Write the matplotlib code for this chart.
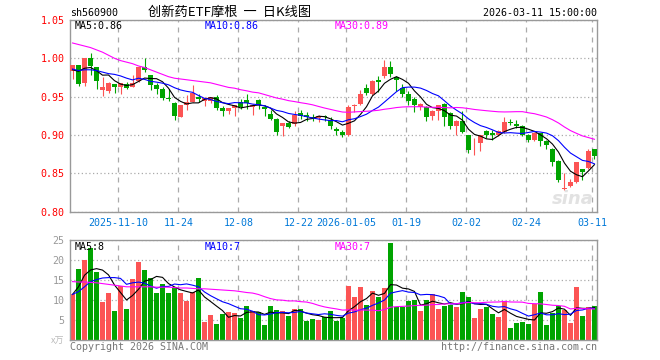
import numpy as np
import pandas as pd
import matplotlib
matplotlib.use("Agg")
import matplotlib.pyplot as plt

# daily candles, 2025-10-29 .. 2026-03-11 (88 trading days)
opens = [0.984, 0.991, 0.968, 1.000, 0.989, 0.958, 0.957, 0.966, 0.963, 0.967,
         0.962, 0.971, 0.988, 0.978, 0.965, 0.960, 0.948, 0.941, 0.924, 0.939,
         0.943, 0.950, 0.944, 0.944, 0.950, 0.935, 0.931, 0.935, 0.943, 0.945,
         0.937, 0.946, 0.936, 0.927, 0.921, 0.911, 0.916, 0.914, 0.928, 0.926,
         0.923, 0.922, 0.925, 0.920, 0.908, 0.904, 0.900, 0.938, 0.940, 0.961,
         0.954, 0.972, 0.977, 0.989, 0.975, 0.961, 0.953, 0.947, 0.937, 0.936,
         0.925, 0.931, 0.940, 0.929, 0.911, 0.918, 0.900, 0.889, 0.890, 0.905,
         0.902, 0.900, 0.904, 0.917, 0.914, 0.912, 0.900, 0.893, 0.902, 0.892,
         0.882, 0.866, 0.830, 0.833, 0.839, 0.855, 0.857, 0.882]
highs = [0.991, 0.991, 1.000, 1.007, 0.989, 0.975, 0.969, 0.966, 0.968, 0.969,
         0.978, 0.990, 1.000, 0.978, 0.968, 0.962, 0.960, 0.943, 0.939, 0.952,
         0.965, 0.953, 0.950, 0.950, 0.952, 0.938, 0.935, 0.939, 0.947, 0.953,
         0.940, 0.947, 0.939, 0.933, 0.922, 0.916, 0.918, 0.931, 0.932, 0.930,
         0.927, 0.926, 0.926, 0.924, 0.910, 0.907, 0.939, 0.940, 0.959, 0.967,
         0.972, 0.977, 0.998, 0.996, 0.977, 0.966, 0.957, 0.950, 0.941, 0.938,
         0.932, 0.939, 0.942, 0.930, 0.919, 0.931, 0.900, 0.896, 0.900, 0.907,
         0.907, 0.907, 0.923, 0.921, 0.920, 0.913, 0.901, 0.904, 0.903, 0.893,
         0.883, 0.867, 0.850, 0.843, 0.865, 0.855, 0.881, 0.882]
lows = [0.973, 0.964, 0.964, 0.978, 0.960, 0.951, 0.955, 0.955, 0.953, 0.960,
        0.962, 0.969, 0.982, 0.959, 0.953, 0.946, 0.944, 0.919, 0.923, 0.933,
        0.943, 0.943, 0.938, 0.942, 0.933, 0.925, 0.927, 0.925, 0.934, 0.934,
        0.926, 0.934, 0.925, 0.919, 0.900, 0.898, 0.909, 0.911, 0.921, 0.918,
        0.918, 0.917, 0.918, 0.908, 0.900, 0.897, 0.899, 0.930, 0.939, 0.952,
        0.952, 0.956, 0.974, 0.975, 0.957, 0.950, 0.939, 0.930, 0.933, 0.918,
        0.920, 0.920, 0.911, 0.908, 0.900, 0.903, 0.876, 0.874, 0.879, 0.896,
        0.893, 0.899, 0.903, 0.913, 0.909, 0.898, 0.891, 0.892, 0.886, 0.881,
        0.860, 0.839, 0.828, 0.832, 0.837, 0.841, 0.855, 0.868]
closes = [0.991, 0.967, 1.000, 0.990, 0.971, 0.962, 0.968, 0.963, 0.968, 0.961,
          0.968, 0.989, 0.985, 0.965, 0.960, 0.948, 0.947, 0.925, 0.939, 0.943,
          0.955, 0.947, 0.948, 0.950, 0.935, 0.931, 0.935, 0.939, 0.936, 0.942,
          0.939, 0.939, 0.934, 0.921, 0.904, 0.916, 0.910, 0.926, 0.925, 0.924,
          0.922, 0.925, 0.923, 0.911, 0.905, 0.900, 0.937, 0.939, 0.953, 0.955,
          0.971, 0.969, 0.989, 0.979, 0.972, 0.953, 0.944, 0.939, 0.940, 0.924,
          0.931, 0.939, 0.924, 0.911, 0.918, 0.904, 0.880, 0.890, 0.900, 0.900,
          0.900, 0.905, 0.917, 0.915, 0.912, 0.900, 0.893, 0.903, 0.892, 0.887,
          0.865, 0.841, 0.831, 0.839, 0.864, 0.852, 0.879, 0.872]
# volume, 万
volumes = [11.4, 17.8, 20.0, 22.9, 17.1, 9.6, 11.8, 7.3, 13.5, 7.8,
           15.2, 19.6, 17.5, 15.4, 11.8, 14.0, 11.8, 13.3, 11.8, 9.8,
           12.1, 15.5, 4.6, 6.2, 4.0, 6.5, 7.1, 6.8, 5.6, 8.5,
           7.2, 6.9, 3.8, 8.5, 7.5, 7.2, 6.0, 7.8, 7.8, 4.8,
           5.2, 5.0, 5.7, 7.2, 4.8, 5.4, 13.5, 10.8, 13.3, 8.8,
           12.2, 10.8, 13.1, 24.3, 8.3, 8.3, 9.8, 10.0, 7.2, 10.0,
           11.5, 7.8, 8.5, 8.8, 8.2, 12.0, 10.8, 5.6, 7.8, 8.3,
           6.5, 5.8, 9.8, 3.1, 4.3, 4.6, 4.0, 9.0, 12.0, 3.8,
           6.7, 8.5, 7.5, 4.3, 13.3, 6.0, 8.3, 8.6]

# moving-average values at the left edge (need data before the window)
ma5_head = [0.985, 0.983, 0.987, 0.988]
ma10_head = [0.986, 0.984, 0.985, 0.985, 0.984, 0.982, 0.980, 0.979, 0.977]
ma30_head = [1.020, 1.018, 1.016, 1.014, 1.011, 1.008, 1.004, 1.000, 0.997, 0.995,
             0.993, 0.990, 0.988, 0.985, 0.982, 0.979, 0.976, 0.974, 0.973, 0.972,
             0.971, 0.970, 0.969, 0.968, 0.966, 0.964, 0.962, 0.961, 0.959]
vma5_head = [11.4, 13.3, 16.2, 17.5]
vma10_head = [11.4, 12.1, 13.3, 14.6, 15.1, 15.5, 15.6, 15.6, 15.4]
vma30_head = [14.6, 14.5, 14.5, 14.4, 14.3, 14.1, 13.9, 13.7, 13.5, 13.3,
              13.3, 13.3, 13.3, 13.3, 13.2, 13.2, 13.2, 13.1, 13.0, 13.0,
              12.9, 12.8, 12.8, 12.7, 12.6, 12.5, 12.4, 12.3, 12.1]

tick_idx = [8, 18, 28, 38, 46, 56, 66, 76, 87]
tick_labels = ["2025-11-10", "11-24", "12-08", "12-22", "2026-01-05",
               "01-19", "02-02", "02-24", "03-11"]
price_ticks = [0.80, 0.85, 0.90, 0.95, 1.00, 1.05]
vol_ticks = [5, 10, 15, 20, 25]

RED = "#fc5454"
GREEN = "#00a400"
GRID = "#aaaaaa"
MONO = "DejaVu Sans Mono"


def moving_avg(values, n, head):
    out = pd.Series(values).rolling(n).mean().to_numpy()
    out[:len(head)] = head
    return out


x = np.arange(len(closes))
o = np.array(opens)
c = np.array(closes)
up = c >= o
colors = np.where(up, RED, GREEN)

fig = plt.figure(figsize=(6.6, 3.6), dpi=100)


def fx(px):
    return px / 660


def fy(py):
    return 1 - py / 360


ax1 = fig.add_axes([fx(70), fy(211.5), 527 / 660, 191.5 / 360])
ax2 = fig.add_axes([fx(70), fy(340), 527 / 660, 100 / 360])

# candles
ax1.vlines(x, lows, highs, colors=colors, linewidth=0.8, zorder=2)
body = np.maximum(np.abs(c - o), 0.0008)
ax1.bar(x, body, bottom=np.minimum(o, c), width=0.82, color=colors,
        linewidth=0, zorder=3)
ax1.plot(x, moving_avg(closes, 5, ma5_head), color="black", lw=0.8, zorder=4)
ax1.plot(x, moving_avg(closes, 10, ma10_head), color="#0000ff", lw=0.8, zorder=4)
ax1.plot(x, moving_avg(closes, 30, ma30_head), color="#ff00ff", lw=0.8, zorder=4)

# volume
ax2.bar(x, volumes, width=0.82, color=colors, linewidth=0, zorder=2)
ax2.plot(x, moving_avg(volumes, 5, vma5_head), color="black", lw=0.8, zorder=4)
ax2.plot(x, moving_avg(volumes, 10, vma10_head), color="#0000ff", lw=0.8, zorder=4)
ax2.plot(x, moving_avg(volumes, 30, vma30_head), color="#ff00ff", lw=0.8, zorder=4)

for ax in (ax1, ax2):
    ax.set_xlim(-0.42, len(closes) - 0.58)
    for s in ax.spines.values():
        s.set_color("#999999")
        s.set_linewidth(1)
    ax.set_xticks([t - 0.35 for t in tick_idx])
    ax.tick_params(length=0)
    ax.grid(axis="x", color=GRID, linestyle=(0, (4, 4)), linewidth=0.9, zorder=1)
    ax.grid(axis="y", color=GRID, linestyle=(0, (1, 2)), linewidth=0.9, zorder=1)
    ax.set_axisbelow(True)

ax1.set_ylim(0.80, 1.05)
ax1.set_yticks(price_ticks)
ax1.set_yticklabels(["%.2f" % p for p in price_ticks], color="red",
                    family=MONO, fontsize=7.2)
ax1.tick_params(axis="y", pad=4)
ax1.set_xticklabels(tick_labels, color="#0078d8", family=MONO, fontsize=7.2)
ax1.tick_params(axis="x", pad=5)

ax2.set_ylim(0, 25)
ax2.set_yticks(vol_ticks)
ax2.set_yticklabels([str(v) for v in vol_ticks], color="#999999",
                    family=MONO, fontsize=7.2)
ax2.tick_params(axis="y", pad=4)
ax2.set_xticklabels([])

# header texts
fig.text(fx(70), fy(12.5), "sh560900", family=MONO, fontsize=7.2,
         va="center", ha="left")
fig.text(fx(230), fy(12), "创新药ETF摩根  一  日K线图",
         family=["Noto Sans CJK SC", "DejaVu Sans"], fontsize=9.5,
         va="center", ha="center")
fig.text(fx(597), fy(12.5), "2026-03-11 15:00:00", family=MONO,
         fontsize=7.2, va="center", ha="right")

fig.text(fx(75), fy(26), "MA5:0.86", family=MONO, fontsize=7.2,
         color="black", va="center")
fig.text(fx(205), fy(26), "MA10:0.86", family=MONO, fontsize=7.2,
         color="#0000ff", va="center")
fig.text(fx(335), fy(26), "MA30:0.89", family=MONO, fontsize=7.2,
         color="#ff00ff", va="center")

fig.text(fx(75), fy(246.5), "MA5:8", family=MONO, fontsize=7.2,
         color="black", va="center")
fig.text(fx(205), fy(246.5), "MA10:7", family=MONO, fontsize=7.2,
         color="#0000ff", va="center")
fig.text(fx(335), fy(246.5), "MA30:7", family=MONO, fontsize=7.2,
         color="#ff00ff", va="center")

fig.text(fx(64), fy(341), "x万", family=["Noto Sans CJK SC", "DejaVu Sans"],
         fontsize=6.5, color="#bbbbbb", va="center", ha="right")
fig.text(fx(70), fy(347), "Copyright 2026 SINA.COM", family=MONO,
         fontsize=7.2, color="#777777", va="center")
fig.text(fx(597), fy(347), "http://finance.sina.com.cn", family=MONO,
         fontsize=7.2, color="#777777", va="center", ha="right")

# watermark
fig.text(fx(594), fy(199), "sina", fontsize=13, fontweight="bold",
         style="italic", color="#e2e2e2", ha="right", va="center", zorder=0)

fig.savefig("out.png", dpi=100)
